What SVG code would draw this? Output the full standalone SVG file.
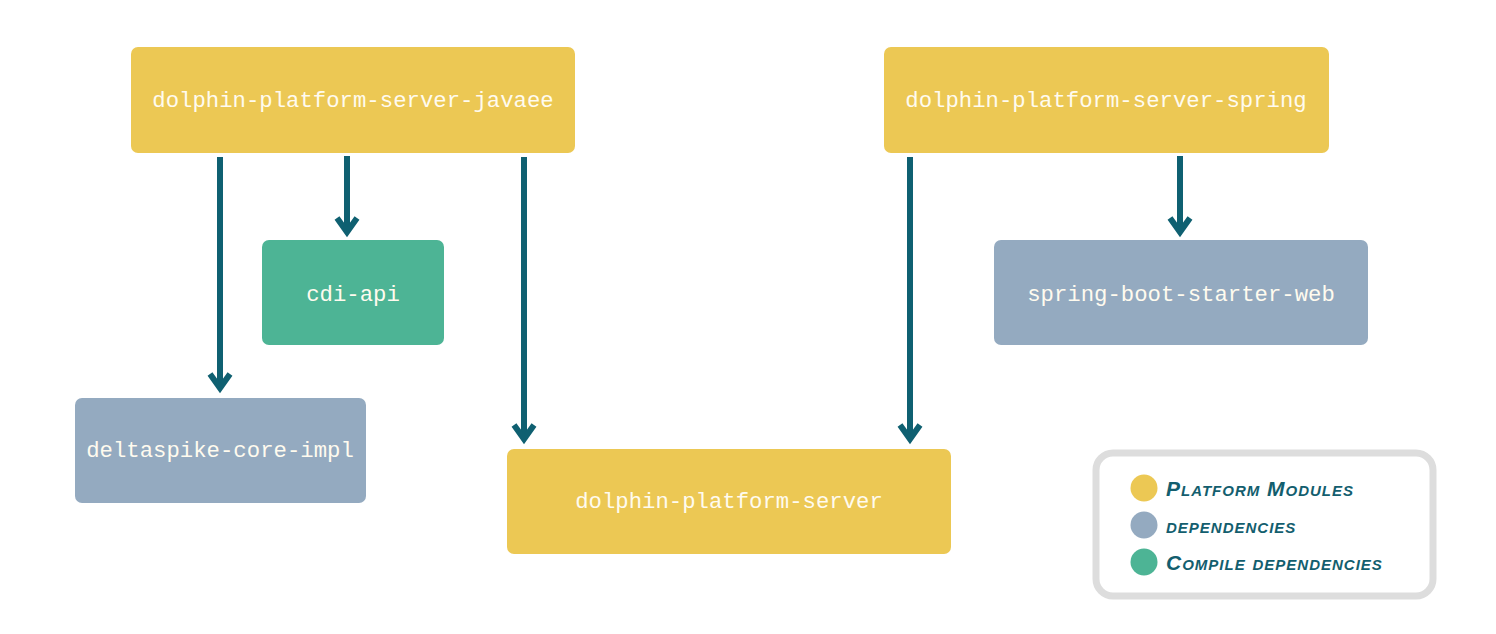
<svg xmlns="http://www.w3.org/2000/svg" width="1496" height="634" viewBox="0 0 1496 634">
<style>
.mod{fill:#ECC854}
.dep{fill:#94AAC0}
.cmp{fill:#4DB495}
.lbl{font-family:"Liberation Mono","DejaVu Sans Mono",monospace;font-size:22.3px;fill:#FFFBEF;text-anchor:middle;dominant-baseline:central}
.edge{stroke:#0F6071;stroke-width:6;fill:none}
.head{stroke:#0F6071;stroke-width:6;fill:none;stroke-linejoin:miter}
.leg{font-family:"Liberation Sans",sans-serif;font-weight:bold;font-style:italic;font-variant:small-caps;font-size:21px;letter-spacing:1px;fill:#135E6E;dominant-baseline:central}
</style>
<rect width="1496" height="634" fill="#FFFFFF"/>
<g id="connectors">
<line class="edge" x1="220" y1="157" x2="220" y2="388"/>
<polyline class="head" points="210,374 220,388 230,374"/>
<line class="edge" x1="347" y1="156" x2="347" y2="232"/>
<polyline class="head" points="337,218 347,232 357,218"/>
<line class="edge" x1="524" y1="157" x2="524" y2="439"/>
<polyline class="head" points="514,425 524,439 534,425"/>
<line class="edge" x1="910" y1="157" x2="910" y2="439"/>
<polyline class="head" points="900,425 910,439 920,425"/>
<line class="edge" x1="1180" y1="156" x2="1180" y2="232"/>
<polyline class="head" points="1170,218 1180,232 1190,218"/>
</g>
<g id="javaee">
<rect class="mod" x="131" y="47" width="444" height="106" rx="7"/>
<text class="lbl" x="353" y="101">dolphin-platform-server-javaee</text>
</g>
<g id="spring">
<rect class="mod" x="884" y="47" width="445" height="106" rx="7"/>
<text class="lbl" x="1106" y="101">dolphin-platform-server-spring</text>
</g>
<g id="cdi-api">
<rect class="cmp" x="262" y="240" width="182" height="105" rx="7"/>
<text class="lbl" x="353" y="295">cdi-api</text>
</g>
<g id="spring-boot-starter-web">
<rect class="dep" x="994" y="240" width="374" height="105" rx="7"/>
<text class="lbl" x="1181" y="295">spring-boot-starter-web</text>
</g>
<g id="deltaspike-core-impl">
<rect class="dep" x="75" y="398" width="291" height="105" rx="7"/>
<text class="lbl" x="220" y="451">deltaspike-core-impl</text>
</g>
<g id="dolphin-platform-server">
<rect class="mod" x="507" y="449" width="444" height="105" rx="7"/>
<text class="lbl" x="729" y="502">dolphin-platform-server</text>
</g>
<g id="legend">
<rect x="1096" y="453" width="337" height="143" rx="17" fill="#FFFFFF" stroke="#DDDDDD" stroke-width="7"/>
<circle cx="1144" cy="488" r="13.5" fill="#ECC854"/>
<circle cx="1144" cy="525" r="13.5" fill="#94AAC0"/>
<circle cx="1144" cy="562" r="13.5" fill="#4DB495"/>
<text class="leg" x="1166" y="488">Platform Modules</text>
<text class="leg" x="1166" y="525">dependencies</text>
<text class="leg" x="1166" y="562">Compile dependencies</text>
</g>
</svg>
